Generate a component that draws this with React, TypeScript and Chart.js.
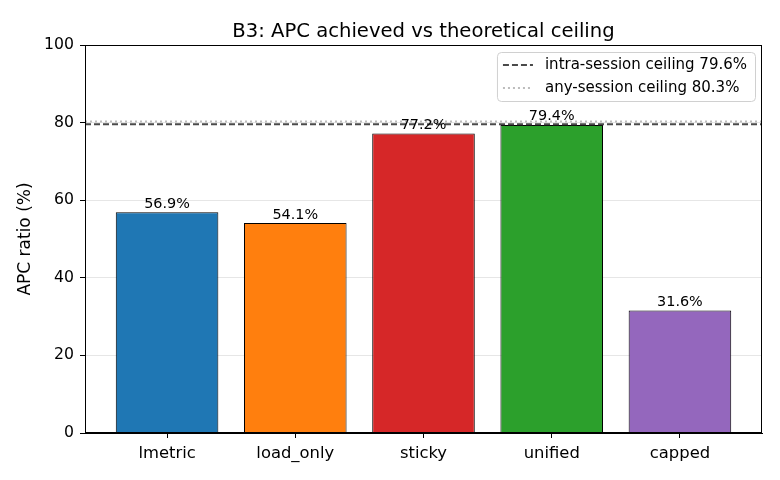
import React, { useEffect, useRef } from "react";
import { Chart, registerables } from "chart.js";

Chart.register(...registerables);

const categories = ["lmetric", "load_only", "sticky", "unified", "capped"];
const apcValues = [56.9, 54.1, 77.2, 79.4, 31.6];
const barColors = ["#1f77b4", "#ff7f0e", "#d62728", "#2ca02c", "#9467bd"];
const intraSessionCeiling = 79.6;
const anySessionCeiling = 80.3;
const yTickValues = [0, 20, 40, 60, 80, 100];
const titleText = "B3: APC achieved vs theoretical ceiling";
const yLabel = "APC ratio (%)";
const xMin = -0.64;
const xMax = 4.64;

const FONT = "'DejaVu Sans', sans-serif";

const decorPlugin = {
  id: "decor",
  afterDatasetsDraw(chart: any) {
    const ctx = chart.ctx;
    const meta = chart.getDatasetMeta(2);
    ctx.save();
    ctx.font = `14.4px ${FONT}`;
    ctx.fillStyle = "#000";
    ctx.textAlign = "center";
    ctx.textBaseline = "alphabetic";
    meta.data.forEach((el: any, i: number) => {
      ctx.fillText(apcValues[i].toFixed(1) + "%", el.x, el.y - 4.5);
    });
    ctx.restore();
  },
  afterDraw(chart: any) {
    const ctx = chart.ctx;
    const a = chart.chartArea;
    ctx.save();
    // frame
    ctx.strokeStyle = "#000";
    ctx.lineWidth = 1;
    ctx.strokeRect(a.left + 0.5, a.top + 0.5, a.right - a.left - 1, a.bottom - a.top - 1);
    // title
    ctx.font = `19.6px ${FONT}`;
    ctx.fillStyle = "#000";
    ctx.textAlign = "center";
    ctx.textBaseline = "alphabetic";
    ctx.fillText(titleText, (a.left + a.right) / 2, 36.5);
    // legend
    const items = [chart.data.datasets[0], chart.data.datasets[1]];
    ctx.font = `15px ${FONT}`;
    const textW = Math.max(...items.map((d: any) => ctx.measureText(d.label).width));
    const handle = 30;
    const padX = 6;
    const gap = 12;
    const boxW = padX + handle + gap + textW + padX + 2;
    const boxH = 49;
    const bx = a.right - 7 - boxW;
    const by = a.top + 7;
    ctx.beginPath();
    (ctx as any).roundRect(bx + 0.5, by + 0.5, boxW, boxH, 4);
    ctx.fillStyle = "rgba(255,255,255,0.85)";
    ctx.fill();
    ctx.strokeStyle = "#d0d0d0";
    ctx.lineWidth = 1;
    ctx.stroke();
    items.forEach((d: any, i: number) => {
      const cy = by + 13 + i * 23;
      ctx.beginPath();
      ctx.setLineDash(d.borderDash);
      ctx.strokeStyle = d.borderColor;
      ctx.lineWidth = d.borderWidth;
      ctx.moveTo(bx + padX, cy);
      ctx.lineTo(bx + padX + handle, cy);
      ctx.stroke();
      ctx.setLineDash([]);
      ctx.fillStyle = "#000";
      ctx.textAlign = "left";
      ctx.textBaseline = "middle";
      ctx.fillText(d.label, bx + padX + handle + gap, cy);
    });
    ctx.restore();
  },
};

export default function App() {
  const ref = useRef<HTMLCanvasElement | null>(null);
  useEffect(() => {
    if (!ref.current) return;
    const chart = new Chart(ref.current, {
      type: "bar",
      data: {
        datasets: [
          {
            type: "line",
            label: `intra-session ceiling ${intraSessionCeiling}%`,
            data: [
              { x: xMin, y: intraSessionCeiling },
              { x: xMax, y: intraSessionCeiling },
            ],
            borderColor: "#4a4a4a",
            borderWidth: 2,
            borderDash: [6, 3],
            pointRadius: 0,
            order: 1,
          } as any,
          {
            type: "line",
            label: `any-session ceiling ${anySessionCeiling}%`,
            data: [
              { x: xMin, y: anySessionCeiling },
              { x: xMax, y: anySessionCeiling },
            ],
            borderColor: "#bdbdbd",
            borderWidth: 2,
            borderDash: [2, 3],
            pointRadius: 0,
            order: 2,
          } as any,
          {
            type: "bar",
            label: "APC",
            data: apcValues.map((v, i) => ({ x: i, y: v })),
            backgroundColor: barColors,
            borderColor: "#000",
            borderWidth: 1,
            barPercentage: 1,
            categoryPercentage: 0.8,
            order: 3,
          } as any,
        ],
      },
      options: {
        responsive: false,
        animation: false,
        devicePixelRatio: 1,
        layout: { padding: { top: 45, right: 18, left: 0, bottom: 0 } },
        plugins: {
          legend: { display: false },
          tooltip: { enabled: false },
          title: { display: false },
        },
        scales: {
          x: {
            type: "linear",
            min: xMin,
            max: xMax,
            offset: false,
            afterBuildTicks: (axis: any) => {
              axis.ticks = categories.map((_, i) => ({ value: i }));
            },
            afterFit: (scale: any) => {
              scale.height = 47;
            },
            ticks: {
              callback: (v: any) => categories[Math.round(Number(v))] ?? "",
              font: { family: FONT, size: 16.4 },
              color: "#000",
              padding: 6,
              maxRotation: 0,
              autoSkip: false,
            },
            grid: {
              offset: false,
              drawOnChartArea: false,
              drawTicks: true,
              tickLength: 5,
              tickColor: "#000",
            },
            border: { display: true, color: "#000", width: 1 },
          },
          y: {
            type: "linear",
            min: 0,
            max: 100,
            afterBuildTicks: (axis: any) => {
              axis.ticks = yTickValues.map((v) => ({ value: v }));
            },
            afterFit: (scale: any) => {
              scale.width = 85;
            },
            ticks: {
              font: { family: FONT, size: 15.7 },
              color: "#000",
              padding: 6,
            },
            grid: {
              color: "#e6e6e6",
              tickColor: "#000",
              tickLength: 5,
              lineWidth: 1,
            },
            border: { display: true, color: "#000", width: 1 },
            title: {
              display: true,
              text: yLabel,
              font: { family: FONT, size: 17 },
              color: "#000",
              padding: { top: 15, bottom: 0 },
            },
          },
        },
      },
      plugins: [decorPlugin],
    });
    return () => chart.destroy();
  }, []);
  return (
    <div style={{ position: "absolute", left: 0, top: 0, width: 780, height: 480, background: "#fff" }}>
      <canvas ref={ref} width={780} height={480} style={{ display: "block" }} />
    </div>
  );
}
